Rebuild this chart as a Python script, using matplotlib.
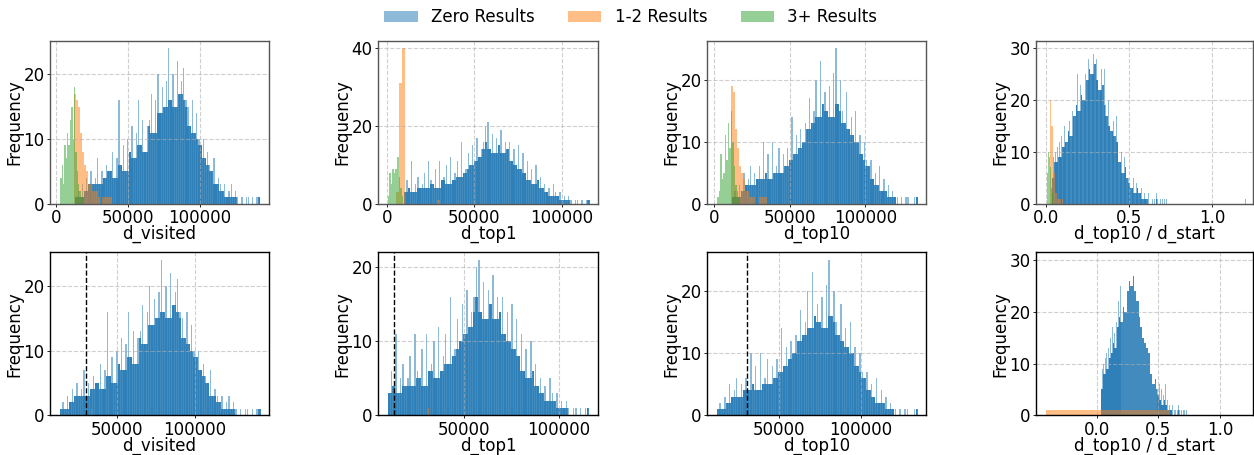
import numpy as np
import matplotlib
matplotlib.use("Agg")
import matplotlib.pyplot as plt
from matplotlib.patches import Patch

# ---------------- data (histogram bin counts) ----------------
series_labels = ["Zero Results", "1-2 Results", "3+ Results"]
metric_labels = ["d_visited", "d_top1", "d_top10", "d_top10 / d_start"]

# Zero Results: first bin edge, bin width, counts per bin
zero_visited_start, zero_visited_width = 13000, 1500
zero_visited_counts = [1, 2, 1, 3,
                       2, 4, 3, 5, 3,
                       4, 7, 3, 5, 4, 6, 5,
                       5, 8, 4, 7, 16, 6, 9, 5, 10,
                       8, 12, 7, 11, 16, 9, 13, 8, 12,
                       13, 17, 11, 16, 20, 14, 18, 15, 19,
                       24, 16, 20, 15, 22, 17, 19, 21, 16,
                       15, 12, 16, 11, 14, 10,
                       9, 10, 7, 8, 6,
                       5, 7, 3, 4, 3,
                       2, 3, 1, 2, 3, 1, 2,
                       1, 0, 1, 0, 1, 1, 0, 1, 0, 1, 1]

zero_top1_start, zero_top1_width = 9700, 1250
zero_top1_counts = [3, 6,
                    4, 11, 3, 5, 7, 4,
                    5, 8, 4, 11, 6, 5, 9, 4, 11, 6,
                    7, 10, 5, 12, 6, 8, 11, 7, 16, 8,
                    9, 13, 10, 15, 11, 17, 12, 14, 16, 20,
                    21, 14, 18, 13, 17, 15, 19, 13, 16, 14,
                    16, 11, 14, 10, 15, 9, 13, 8,
                    11, 6, 9, 5, 10, 6, 7,
                    4, 5, 3, 4, 2, 5, 3,
                    2, 3, 1, 2, 1, 2,
                    1, 0, 1, 1, 0, 1, 0, 1, 1]

zero_top10_start, zero_top10_width = 11600, 1450
zero_top10_counts = [1, 2, 1, 3, 2, 5,
                     3, 4, 6, 3, 5, 4, 6,
                     4, 10, 5, 8, 4, 10, 5,
                     6, 9, 5, 8, 6, 9,
                     7, 14, 8, 11, 9, 12, 10, 13,
                     12, 17, 13, 15, 20, 14, 23, 16, 18,
                     15, 19, 14, 21, 25, 16, 20, 15,
                     13, 18, 12, 14, 11, 15, 10,
                     11, 8, 10, 7,
                     6, 7, 4, 5, 3, 6,
                     2, 4, 2, 3, 1, 2,
                     1, 1, 0, 1, 0, 1, 1, 0, 0, 1, 1]

zero_ratio_start, zero_ratio_width = 0.035, 0.008
zero_ratio_counts = [5, 9, 10, 8, 11, 12,
                     9, 13, 11, 15, 12, 17, 14, 16, 13, 18,
                     17, 22, 19, 25, 18, 23, 21, 27, 20, 25,
                     24, 28, 26, 30, 25, 29, 27, 28,
                     24, 27, 22, 26, 23, 26, 19,
                     17, 20, 15, 18, 14, 16, 13, 17, 12, 14,
                     8, 10, 6, 9, 7, 10, 5,
                     4, 6, 3, 5, 2, 4, 3, 6, 2, 3,
                     1, 2, 1, 1, 2, 0, 1, 1, 0, 1, 2, 1, 0, 1, 0, 1, 1, 0, 1]
zero_ratio_outlier_x = [1.200]
zero_ratio_outlier_n = [1]

# 1-2 Results (top row)
one_visited_start, one_visited_width = 12000, 1400
one_visited_counts = [17, 16, 15, 11, 8, 6, 5, 3, 3, 2, 2, 2, 1, 0, 1, 1, 1, 1, 1]
one_top1_start, one_top1_width = 5550, 1560
one_top1_counts = [3, 31, 40, 0, 0, 0, 0, 0, 0, 0, 0, 0, 0, 0, 0, 1]
one_top10_start, one_top10_width = 10800, 1350
one_top10_counts = [19, 18, 12, 9, 6, 5, 4, 2, 2, 1, 1, 1, 0, 0, 1, 1, 1, 1]
one_ratio_start, one_ratio_width = 0.024, 0.006
one_ratio_counts = [20, 15, 15, 6, 6, 2, 2, 1, 1, 1, 1, 0, 1]

# 3+ Results (top row)
three_visited_start, three_visited_width = 2800, 950
three_visited_counts = [4, 6, 3, 9, 7, 11, 9, 13, 15, 10, 18, 8, 5, 3, 2, 1, 1]
three_top1_start, three_top1_width = 600, 880
three_top1_counts = [2, 8, 5, 9, 8, 9, 12, 7, 4, 2]
three_top10_start, three_top10_width = 2000, 1000
three_top10_counts = [1, 2, 8, 4, 5, 11, 7, 13, 9, 15, 10, 6, 3, 2, 1]
three_ratio_start, three_ratio_width = 0.004, 0.004
three_ratio_counts = [3, 6, 10, 5, 9, 7, 4, 3, 2, 1]

# bottom row: 1-2 Results remaining values (left edge, width, count)
bottom_one_left = [33400, 31000, 32500, -0.41]
bottom_one_width = [400, 500, 450, 1.0]
bottom_one_count = [1, 1, 1, 1]
# threshold lines in bottom row (None = no line)
bottom_thresholds = [30000, 13000, 30000, None]

# ---------------- styling ----------------
C_BLUE, C_ORANGE, C_GREEN = "#1f77b4", "#ff7f0e", "#2ca02c"
plt.rcParams["font.family"] = ["DejaVu Sans"]
plt.rcParams["font.size"] = 12
plt.rcParams["xtick.major.size"] = 2.0
plt.rcParams["ytick.major.size"] = 2.0
plt.rcParams["xtick.major.pad"] = 1.8
plt.rcParams["ytick.major.pad"] = 1.8
plt.rcParams["xtick.major.width"] = 0.6
plt.rcParams["ytick.major.width"] = 0.6

W, H = 1254, 455
fig = plt.figure(figsize=(W / 100, H / 100), dpi=100)

col_left_px = [50, 378, 707, 1036]
col_width_px = [218.5, 220, 219, 217]
row_top_px = [40.7, 252.3]
row_h_px = 163

top_xlims = [(-4375, 147700), (-4971, 120740), (-4834, 140150), (-0.06, 1.245)]
bot_xlims = [(6860, 147050), (4593, 120750), (5753, 139780), (-0.49, 1.265)]

zero_sets = [
    (zero_visited_start, zero_visited_width, zero_visited_counts),
    (zero_top1_start, zero_top1_width, zero_top1_counts),
    (zero_top10_start, zero_top10_width, zero_top10_counts),
    (zero_ratio_start, zero_ratio_width, zero_ratio_counts),
]
one_sets = [
    (one_visited_start, one_visited_width, one_visited_counts),
    (one_top1_start, one_top1_width, one_top1_counts),
    (one_top10_start, one_top10_width, one_top10_counts),
    (one_ratio_start, one_ratio_width, one_ratio_counts),
]
three_sets = [
    (three_visited_start, three_visited_width, three_visited_counts),
    (three_top1_start, three_top1_width, three_top1_counts),
    (three_top10_start, three_top10_width, three_top10_counts),
    (three_ratio_start, three_ratio_width, three_ratio_counts),
]


def draw_hist(ax, start, width, counts, color, dense=False):
    counts = np.asarray(counts, dtype=float)
    left = start + width * np.arange(len(counts))
    if not dense:
        ax.bar(left, counts, width=width, align="edge", color=color,
               alpha=0.5, linewidth=0)
        return
    # very many thin, half-transparent bars: overlapping neighbours render a
    # dark body, the single tallest bars show as light thin spikes
    p = np.pad(counts, 1, mode="edge")
    low = np.minimum(np.minimum(p[:-2], p[1:-1]), p[2:])
    ax.bar(left, low, width=width, align="edge", color=color,
           alpha=0.85, linewidth=0)
    ax.bar(left + width * 0.5, counts, width=width * 0.6, align="center",
           color=color, alpha=0.5, linewidth=0)


def style_ax(ax, xlabel, spine_color):
    ax.set_xlabel(xlabel, labelpad=-1.5)
    ax.set_ylabel("Frequency", labelpad=0)
    ax.grid(True, linestyle="--", color="#b0b0b0", alpha=0.6, linewidth=0.8)
    for s in ax.spines.values():
        s.set_color(spine_color)
        s.set_linewidth(1.0)


for r in range(2):
    for c in range(4):
        left = col_left_px[c] / W
        bottom = 1 - (row_top_px[r] + row_h_px) / H
        ax = fig.add_axes([left, bottom, col_width_px[c] / W, row_h_px / H])
        s, w, n = zero_sets[c]
        draw_hist(ax, s, w, n, C_BLUE, dense=True)
        if c == 3:
            ax.bar(zero_ratio_outlier_x, zero_ratio_outlier_n, width=0.006,
                   color=C_BLUE, alpha=0.5, linewidth=0)
        if r == 0:
            s, w, n = one_sets[c]
            draw_hist(ax, s, w, n, C_ORANGE)
            s, w, n = three_sets[c]
            draw_hist(ax, s, w, n, C_GREEN)
            ax.set_xlim(*top_xlims[c])
            style_ax(ax, metric_labels[c], "#555555")
        else:
            ax.bar([bottom_one_left[c]], [bottom_one_count[c]],
                   width=bottom_one_width[c], align="edge",
                   color=C_ORANGE, alpha=0.5, linewidth=0)
            if bottom_thresholds[c] is not None:
                ax.axvline(bottom_thresholds[c], color="black",
                           linestyle="--", linewidth=1)
            ax.set_xlim(*bot_xlims[c])
            style_ax(ax, metric_labels[c], "black")

handles = [Patch(facecolor=col, alpha=0.5) for col in (C_BLUE, C_ORANGE, C_GREEN)]
fig.legend(handles, series_labels, loc="upper center", ncol=3, frameon=False,
           bbox_to_anchor=(0.503, 1.015))

fig.savefig("out.png", dpi=100)
